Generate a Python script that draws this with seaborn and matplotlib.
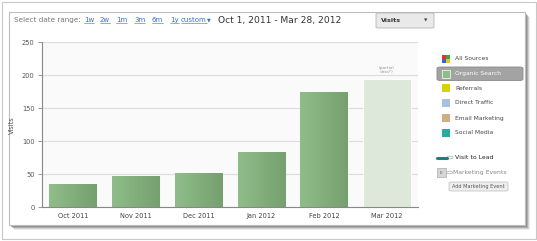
import numpy as np
import pandas as pd
import matplotlib
matplotlib.use("Agg")
import matplotlib.pyplot as plt
import seaborn as sns
from matplotlib.patches import Rectangle, FancyBboxPatch, Circle
from matplotlib.lines import Line2D

months = ["Oct 2011", "Nov 2011", "Dec 2011", "Jan 2012", "Feb 2012", "Mar 2012"]
visits = [35, 48, 52, 84, 174, 194]
yticks = [0, 50, 100, 150, 200, 250]
range_links = ["1w", "2w", "1m", "3m", "6m", "1y", "custom"]
legend_labels = ["All Sources", "Organic Search", "Referrals", "Direct Traffic",
                 "Email Marketing", "Social Media"]
legend_colors = [None, "#8fbf88", "#d6d400", "#a9c0e0", "#cfae84", "#2aaaa2"]

sns.set_theme(style="white")
plt.rcParams["font.family"] = ["DejaVu Sans"]

W, H = 537, 241
fig = plt.figure(figsize=(W / 100, H / 100), dpi=100)
fig.patch.set_facecolor("white")

def fx(x):
    return x / W

def fy(y):
    return 1 - y / H

# outer frame
fig.add_artist(Rectangle((fx(1.5), fy(238.5)), fx(534.5), 237 / H, transform=fig.transFigure,
                         fill=False, edgecolor="#c8c8c8", lw=0.8, zorder=-10))
# soft shadow of the panel
px0, py0, px1, py1 = 9, 12, 525, 225
for off, a in [(5, 0.12), (4, 0.22), (3, 0.35), (2, 0.5)]:
    fig.add_artist(Rectangle((fx(px0 + off), fy(py1 + off)), fx(px1 - px0),
                             (py1 - py0) / H, transform=fig.transFigure,
                             facecolor="#707070", alpha=a, edgecolor="none", zorder=-9))
fig.add_artist(Rectangle((fx(px0), fy(py1)), fx(px1 - px0), (py1 - py0) / H,
                         transform=fig.transFigure, facecolor="white",
                         edgecolor="#bdbdbd", lw=0.8, zorder=-8))

ax = fig.add_axes([41.7 / W, 33.7 / H, 376.6 / W, 165 / H])
ax.set_zorder(1)
df = pd.DataFrame({"month": months, "visits": visits})
sns.barplot(data=df, x="month", y="visits", ax=ax, color="#86b07f", width=0.76,
            saturation=1, edgecolor="white", linewidth=0.6)
ax.set_facecolor("#fafafa")
ax.set_ylim(0, 250)
ax.set_xlim(-0.5, len(months) - 0.5)
ax.set_yticks(yticks)
ax.yaxis.grid(True, color="#dcdcdc", lw=0.8)
ax.set_axisbelow(True)
for s in ["top", "right"]:
    ax.spines[s].set_visible(False)
for s in ["left", "bottom"]:
    ax.spines[s].set_color("#888888")
    ax.spines[s].set_linewidth(0.8)
ax.tick_params(axis="y", length=3, width=0.6, color="#888888", labelsize=4.8,
               labelcolor="#555555", pad=2, left=True)
ax.tick_params(axis="x", length=0, labelsize=4.8, labelcolor="#444444", pad=4)
ax.set_xlabel("")
ax.set_ylabel("Visits", fontsize=4.8, color="#555555")
ax.yaxis.set_label_coords((15 - 41.7) / 376.6, 0.5)

# gradient fill for bars
grad = np.linspace(0, 1, 64).reshape(1, -1)
cmap = matplotlib.colors.LinearSegmentedColormap.from_list("g", ["#8fbd89", "#76a06f"])
patches = list(ax.patches)
for i, p in enumerate(patches):
    x0, w, h = p.get_x(), p.get_width(), p.get_height()
    if i == len(patches) - 1:
        p.set_facecolor("#dde8db")
        continue
    im = ax.imshow(grad, cmap=cmap, extent=[x0, x0 + w, 0, h], aspect="auto",
                   origin="lower", zorder=p.get_zorder() + 0.1)
    im.set_clip_path(p)
ax.set_xlim(-0.5, len(months) - 0.5)
ax.set_ylim(0, 250)

last = patches[-1]
ax.text(last.get_x() + last.get_width() / 2, last.get_height() + 8, "(partial\ndata*)",
        ha="center", va="bottom", fontsize=3.2, color="#999999", linespacing=1.0)

# header
fig.text(fx(14), fy(20), "Select date range:", fontsize=5.2, color="#777777", va="center")
link_x = [84, 100, 116, 134, 152, 170, 181]
link_objs = []
for lx, lab in zip(link_x, range_links):
    t = fig.text(fx(lx), fy(20), lab, fontsize=5.0, color="#3a6fc8", va="center")
    link_objs.append(t)
fig.text(fx(207), fy(19.5), "\u25BC", fontsize=3.5, color="#3a6fc8", va="center")
fig.text(fx(218), fy(20), "Oct 1, 2011 - Mar 28, 2012", fontsize=6.6, color="#333333",
         va="center")

# dropdown
fig.add_artist(FancyBboxPatch((fx(376), fy(28)), fx(58), 15 / H, transform=fig.transFigure,
                              boxstyle="round,pad=0,rounding_size=0.004",
                              facecolor="#e9e9e9", edgecolor="#b5b5b5", lw=0.6))
fig.text(fx(381), fy(20.5), "Visits", fontsize=4.6, color="#333333", va="center",
         fontweight="bold")
fig.text(fx(424), fy(21), "\u25BC", fontsize=3.2, color="#444444", va="center")

# legend
leg_y = [59, 73.5, 88, 103, 118, 133]
fig.add_artist(FancyBboxPatch((fx(437), fy(80.5)), fx(86), 13.5 / H,
                              transform=fig.transFigure,
                              boxstyle="round,pad=0,rounding_size=0.006",
                              facecolor="#a3a3a3", edgecolor="#8a8a8a", lw=0.6))
for lab, col, yy in zip(legend_labels, legend_colors, leg_y):
    if col is None:
        quad = ["#d83a2a", "#3aa64a", "#3a66c8", "#e8c820"]
        offs = [(0, 0), (4, 0), (0, 4), (4, 4)]
        for qc, (ox, oy) in zip(quad, offs):
            fig.add_artist(Rectangle((fx(442 + ox), fy(yy + oy)), fx(4), 4 / H,
                                     transform=fig.transFigure, facecolor=qc,
                                     edgecolor="none"))
    else:
        edge = "white" if lab == "Organic Search" else "none"
        fig.add_artist(Rectangle((fx(442), fy(yy + 4)), fx(8), 8 / H,
                                 transform=fig.transFigure, facecolor=col,
                                 edgecolor=edge, lw=0.5))
    tc = "white" if lab == "Organic Search" else "#444444"
    fig.text(fx(455), fy(yy), lab, fontsize=4.3, color=tc, va="center")

# Visit to lead
fig.add_artist(Line2D([fx(437), fx(447)], [fy(157.5), fy(157.5)], transform=fig.transFigure,
                      color="#1f7f80", lw=2.2))
fig.add_artist(Circle((fx(450), fy(157.5)), 3 / W, transform=fig.transFigure,
                      facecolor="white", edgecolor="#aaaaaa", lw=0.5))
fig.text(fx(455), fy(157.5), "Visit to Lead", fontsize=4.4, color="#222222", va="center")

# marketing events
fig.add_artist(Rectangle((fx(437), fy(177)), fx(9), 9 / H, transform=fig.transFigure,
                         facecolor="#d6d6d6", edgecolor="#aaaaaa", lw=0.5))
fig.text(fx(441.5), fy(172.5), "E", fontsize=3.2, color="#666666", va="center", ha="center")
fig.add_artist(Circle((fx(449.5), fy(172.5)), 3 / W, transform=fig.transFigure,
                      facecolor="white", edgecolor="#aaaaaa", lw=0.5))
fig.text(fx(453), fy(172.5), "Marketing Events", fontsize=4.4, color="#888888", va="center")
fig.add_artist(FancyBboxPatch((fx(449), fy(191)), fx(59), 9 / H, transform=fig.transFigure,
                              boxstyle="round,pad=0,rounding_size=0.004",
                              facecolor="#eeeeee", edgecolor="#bbbbbb", lw=0.5))
fig.text(fx(478.5), fy(186.5), "Add Marketing Event", fontsize=3.6, color="#555555",
         va="center", ha="center")

# underline links
fig.canvas.draw()
r = fig.canvas.get_renderer()
for t in link_objs:
    bb = t.get_window_extent(r)
    fig.add_artist(Line2D([bb.x0 / W, bb.x1 / W], [(bb.y0 - 0.3) / H, (bb.y0 - 0.3) / H],
                          transform=fig.transFigure, color="#3a6fc8", lw=0.4))

fig.savefig("out.png", dpi=100)
